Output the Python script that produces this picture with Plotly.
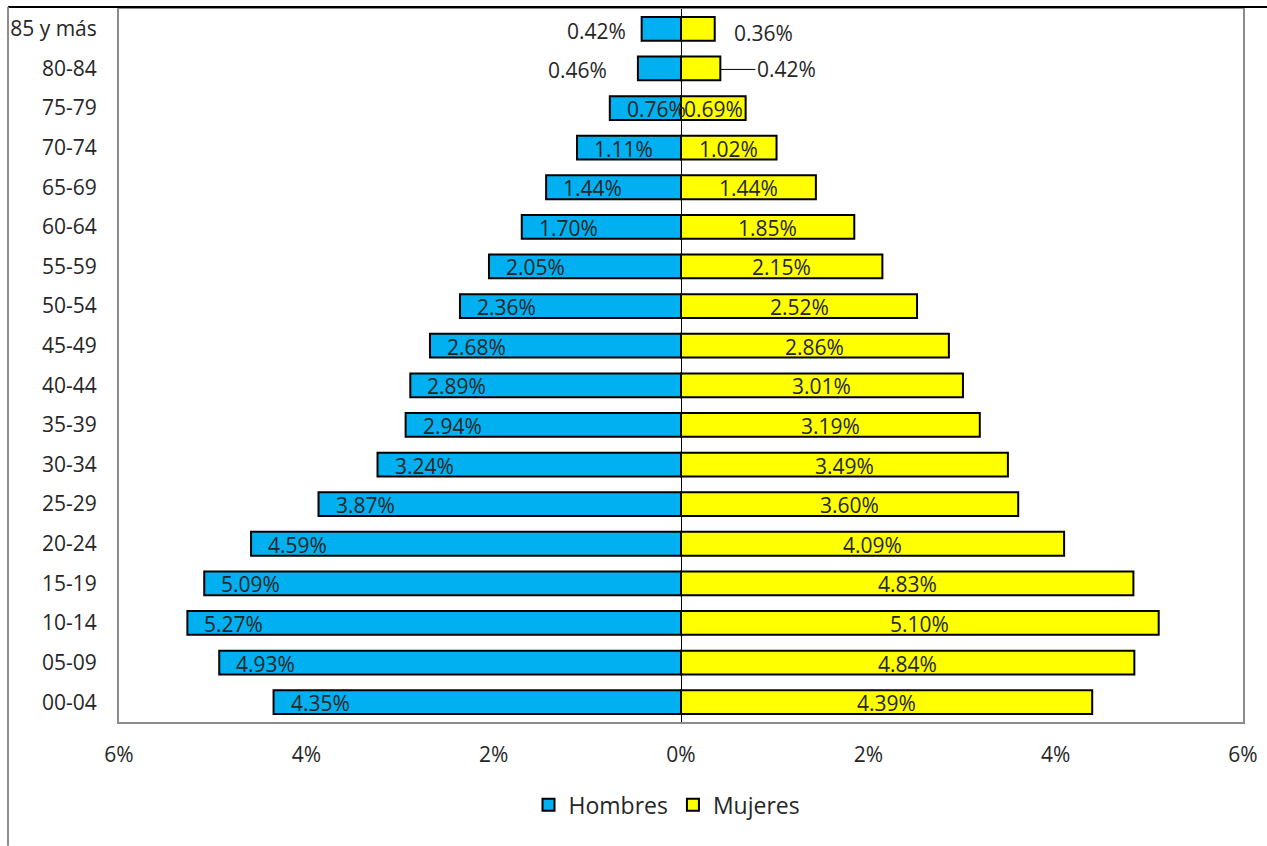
import plotly.graph_objects as go

grupos = ["00-04", "05-09", "10-14", "15-19", "20-24", "25-29", "30-34", "35-39",
          "40-44", "45-49", "50-54", "55-59", "60-64", "65-69", "70-74", "75-79",
          "80-84", "85 y más"]
hombres = [4.35, 4.93, 5.27, 5.09, 4.59, 3.87, 3.24, 2.94, 2.89, 2.68, 2.36, 2.05,
           1.70, 1.44, 1.11, 0.76, 0.46, 0.42]
mujeres = [4.39, 4.84, 5.10, 4.83, 4.09, 3.60, 3.49, 3.19, 3.01, 2.86, 2.52, 2.15,
           1.85, 1.44, 1.02, 0.69, 0.42, 0.36]
tick_vals = [-6, -4, -2, 0, 2, 4, 6]
tick_text = ["6%", "4%", "2%", "0%", "2%", "4%", "6%"]

FONT = "Open Sans"
TXT = "#262626"
FS = 21

fig = go.Figure()
fig.add_trace(go.Bar(
    y=grupos, x=[-v for v in hombres], orientation="h", name="Hombres",
    marker=dict(color="#00B0F0", line=dict(color="black", width=2)),
    hoverinfo="skip"))
fig.add_trace(go.Bar(
    y=grupos, x=mujeres, orientation="h", name="Mujeres",
    marker=dict(color="#FFFF00", line=dict(color="black", width=2)),
    hoverinfo="skip"))

ann = []
outside_h = {"85 y más": -14, "80-84": -29}
for g, h in zip(grupos, hombres):
    if g in outside_h:
        ann.append(dict(x=-h, y=g, text=f"{h:.2f}%", showarrow=False, xanchor="right",
                        xshift=outside_h[g], yshift=-2, font=dict(family=FONT, size=FS, color=TXT)))
    else:
        ann.append(dict(x=-h, y=g, text=f"{h:.2f}%", showarrow=False, xanchor="left",
                        xshift=15, yshift=-1, font=dict(family=FONT, size=FS, color=TXT)))
for g, m in zip(grupos, mujeres):
    if g == "85 y más":
        ann.append(dict(x=m, y=g, text=f"{m:.2f}%", showarrow=False, xanchor="left",
                        xshift=17, yshift=-4, font=dict(family=FONT, size=FS, color=TXT)))
    elif g == "80-84":
        ann.append(dict(x=m, y=g, text=f"{m:.2f}%", showarrow=True, arrowhead=0,
                        arrowwidth=1, arrowcolor="black", ax=66, ay=0, standoff=0,
                        yshift=-1, font=dict(family=FONT, size=FS, color=TXT)))
    else:
        ann.append(dict(x=m / 2, y=g, text=f"{m:.2f}%", showarrow=False, xanchor="center",
                        yshift=-1, font=dict(family=FONT, size=FS, color=TXT)))

# outer chart border (paper coords)
L, R, T, B = 119, 1243, 7, 722
W, H = 1267, 846
def px(xp):
    return (xp - L) / (R - L)
def py(yp):
    return (B - yp) / (B - T)

shapes = [
    dict(type="line", xref="paper", yref="paper", x0=px(8), x1=px(1267), y0=py(5), y1=py(5),
         line=dict(color="black", width=2)),
    dict(type="line", xref="paper", yref="paper", x0=px(8), x1=px(8), y0=py(5), y1=py(846),
         line=dict(color="#8c8c8c", width=2)),
]

fig.update_layout(
    width=W, height=H,
    margin=dict(l=L, r=W - R, t=T, b=H - B, pad=0),
    barmode="overlay", bargap=0.4,
    plot_bgcolor="white", paper_bgcolor="white",
    font=dict(family=FONT, size=FS, color=TXT),
    showlegend=True,
    legend=dict(orientation="h", x=px(667), y=py(805), xanchor="center", yanchor="middle",
                font=dict(family=FONT, size=23, color=TXT), traceorder="normal",
                itemwidth=30),
    annotations=ann,
    shapes=shapes,
)
fig.update_xaxes(range=[-6, 6], tickvals=tick_vals, ticktext=tick_text, showgrid=False,
                 zeroline=True, zerolinecolor="black", zerolinewidth=1,
                 showline=True, linecolor="#8c8c8c", linewidth=2, mirror=True,
                 ticks="", ticklabelstandoff=13, tickfont=dict(family=FONT, size=FS, color=TXT))
fig.update_yaxes(type="category", categoryorder="array", categoryarray=grupos,
                 showgrid=False, showline=True, linecolor="#8c8c8c", linewidth=2, mirror=True,
                 ticks="", ticklabelstandoff=16, tickfont=dict(family=FONT, size=FS, color=TXT))

fig.write_html("out.html", post_script="document.body.style.margin='0';", config={"displayModeBar": False})
